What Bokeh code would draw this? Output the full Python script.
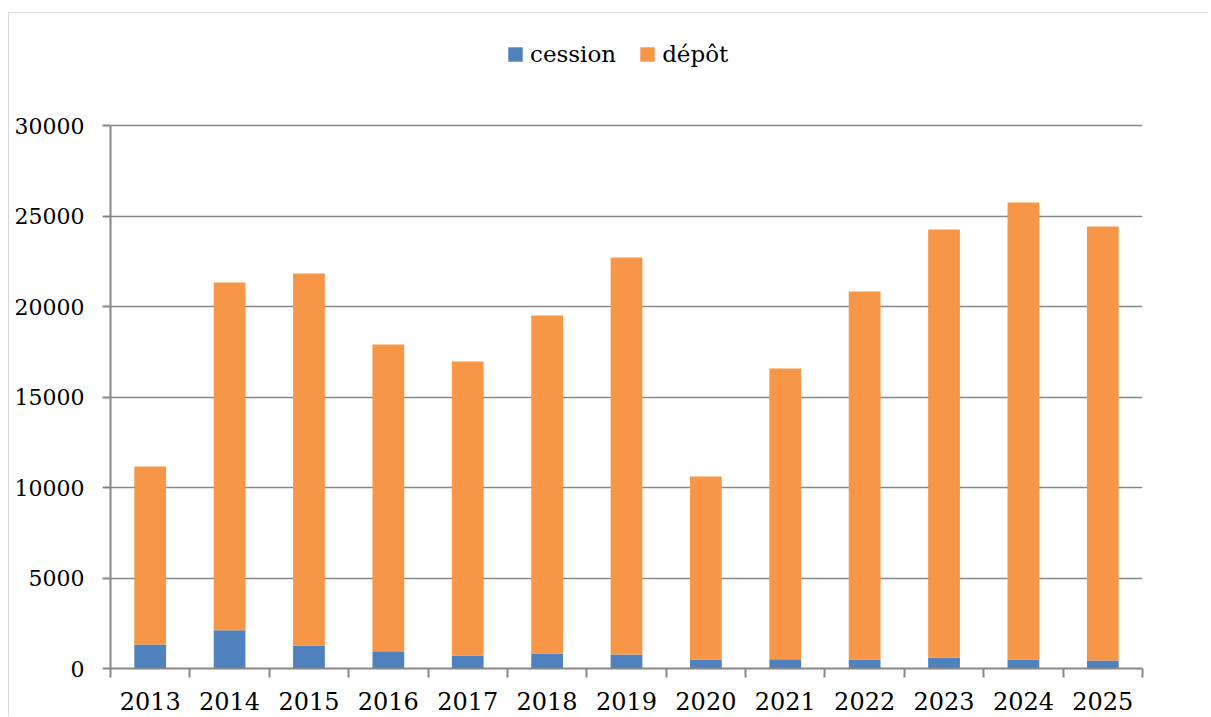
from bokeh.plotting import figure
from bokeh.models import ColumnDataSource, FixedTicker, Legend, LegendItem, Range1d
from bokeh.embed import file_html
from bokeh.resources import INLINE

years = ["2013", "2014", "2015", "2016", "2017", "2018", "2019", "2020", "2021", "2022", "2023", "2024", "2025"]
cession = [1330, 2120, 1270, 960, 720, 830, 770, 480, 510, 500, 590, 500, 440]
total = [11160, 21330, 21820, 17900, 16960, 19500, 22710, 10610, 16570, 20830, 24250, 25750, 24420]
depot = [t - c for t, c in zip(total, cession)]
y_ticks = [0, 5000, 10000, 15000, 20000, 25000, 30000]
y_axis_max = 30000
y_view_max = 36190  # leaves room above the axis for the legend

FONT = "DejaVu Serif"
GRAY = "#878787"
BLUE = "#4F81BD"
ORANGE = "#F79646"

idx = list(range(len(years)))
src = ColumnDataSource(dict(x=idx, cession=cession, depot=depot))

p = figure(width=1200, height=704, output_backend="svg", toolbar_location=None,
           x_range=Range1d(-0.5, len(years) - 0.5), y_range=Range1d(0, y_view_max),
           min_border_left=101, min_border_right=67, min_border_top=0, min_border_bottom=49)
p.styles = {"border-left": "1px solid #d9d9d9", "border-top": "1px solid #d9d9d9",
            "margin-left": "8px", "margin-top": "12px"}
p.outline_line_color = None
p.background_fill_color = "white"
p.border_fill_color = "white"

r = p.vbar_stack(["cession", "depot"], x="x", width=0.4, source=src,
                 color=[BLUE, ORANGE], line_color=None)

# x axis
p.xaxis.ticker = FixedTicker(ticks=idx, minor_ticks=[i - 0.5 for i in range(len(years) + 1)])
p.xaxis.major_label_overrides = {i: y for i, y in zip(idx, years)}
p.xaxis.major_tick_line_color = None
p.xaxis.major_tick_out = 0
p.xaxis.major_tick_in = 0
p.xaxis.minor_tick_line_color = GRAY
p.xaxis.minor_tick_line_width = 2
p.xaxis.minor_tick_out = 9
p.xaxis.minor_tick_in = 0
p.xaxis.axis_line_color = GRAY
p.xaxis.axis_line_width = 2
p.xaxis.major_label_text_font = FONT
p.xaxis.major_label_text_font_size = "24px"
p.xaxis.major_label_text_color = "black"
p.xaxis.major_label_standoff = 14

# y axis
p.yaxis.ticker = FixedTicker(ticks=y_ticks)
p.yaxis.bounds = (0, y_axis_max)
p.yaxis.major_tick_line_color = GRAY
p.yaxis.major_tick_line_width = 2
p.yaxis.major_tick_out = 8
p.yaxis.major_tick_in = 0
p.yaxis.minor_tick_line_color = None
p.yaxis.axis_line_color = GRAY
p.yaxis.axis_line_width = 2
p.yaxis.major_label_text_font = FONT
p.yaxis.major_label_text_font_size = "22px"
p.yaxis.major_label_text_color = "black"
p.yaxis.major_label_standoff = 18

p.xgrid.grid_line_color = None
p.ygrid.ticker = FixedTicker(ticks=y_ticks)
p.ygrid.grid_line_color = GRAY
p.ygrid.grid_line_width = 1.5

legend = Legend(items=[LegendItem(label="cession", renderers=[r[0]]),
                       LegendItem(label="dépôt", renderers=[r[1]])],
                location=(396, 601), orientation="horizontal")
legend.label_text_font = FONT
legend.label_text_font_size = "23px"
legend.label_text_color = "black"
legend.glyph_width = 18
legend.glyph_height = 18
legend.label_standoff = 6
legend.spacing = 22
legend.padding = 0
legend.margin = 0
legend.border_line_color = None
legend.background_fill_alpha = 0
p.add_layout(legend, "center")

open("out.html", "w").write(file_html(p, INLINE))
